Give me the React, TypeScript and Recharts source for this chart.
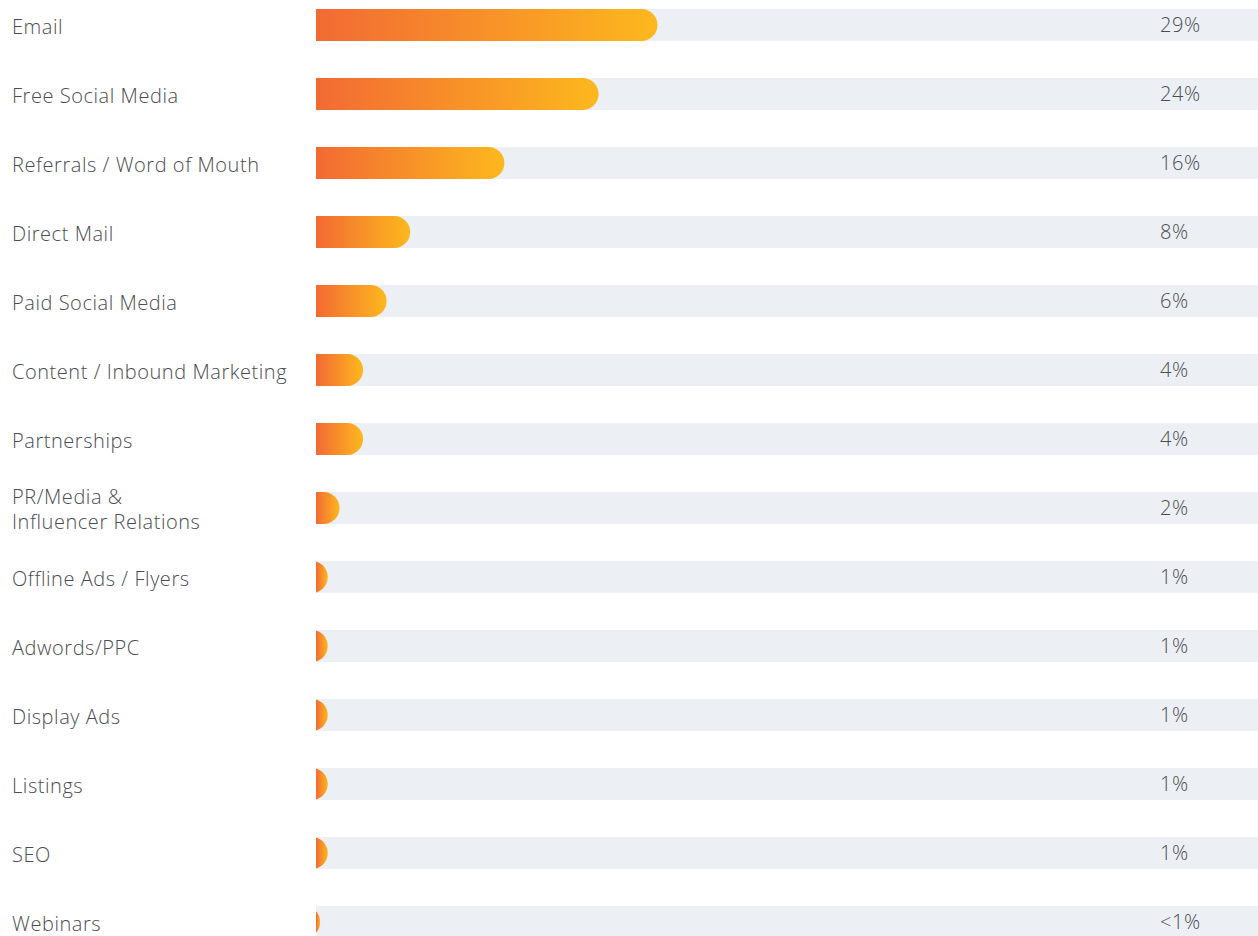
import React from 'react';
import { BarChart, Bar, XAxis, YAxis } from 'recharts';

// Marketing channels, top to bottom
const channels = [
  'Email',
  'Free Social Media',
  'Referrals / Word of Mouth',
  'Direct Mail',
  'Paid Social Media',
  'Content / Inbound Marketing',
  'Partnerships',
  'PR/Media &\nInfluencer Relations',
  'Offline Ads / Flyers',
  'Adwords/PPC',
  'Display Ads',
  'Listings',
  'SEO',
  'Webinars',
];

// share of respondents, in percent
const shares = [29, 24, 16, 8, 6, 4, 4, 2, 1, 1, 1, 1, 1, 0.35];

const shareLabels = ['29%', '24%', '16%', '8%', '6%', '4%', '4%', '2%', '1%', '1%', '1%', '1%', '1%', '<1%'];

const rows = channels.map((channel, i) => ({ channel, share: shares[i], label: shareLabels[i] }));

const FONT = '"Open Sans", Roboto, sans-serif';
const TEXT = '#4b4d52';

// pill bar with a round right end; tiny bars become a slice of that round end
const RoundEndBar = (props: any) => {
  const { x, y, width, height, fill } = props;
  if (!width || width <= 0) return null;
  const r = height / 2;
  const cy = y + r;
  let d: string;
  if (width >= r) {
    d = `M${x},${y} H${x + width - r} A${r},${r} 0 0 1 ${x + width - r},${y + height} H${x} Z`;
  } else {
    const hh = Math.sqrt(r * r - (r - width) * (r - width));
    d = `M${x},${cy - hh} A${r},${r} 0 0 1 ${x},${cy + hh} Z`;
  }
  return <path d={d} fill={fill} />;
};

const ChannelTick = ({ y, payload }: any) => {
  const lines = String(payload.value).split('\n');
  const lineHeight = 25;
  const startDy = -((lines.length - 1) * lineHeight) / 2 + 1;
  return (
    <text
      x={12}
      y={y}
      fill={TEXT}
      fontSize={20}
      fontWeight={300}
      letterSpacing={0.55}
      fontFamily={FONT}
      dominantBaseline="central"
    >
      {lines.map((line, i) => (
        <tspan key={i} x={12} dy={i === 0 ? startDy : lineHeight}>
          {line}
        </tspan>
      ))}
    </text>
  );
};

// percentage readout near the right end of each track
const ShareTick = ({ x, y, index }: any) => (
  <text
    x={x - 90}
    y={y}
    fill={TEXT}
    fontSize={20}
    fontWeight={300}
    letterSpacing={0.55}
    fontFamily={FONT}
    dominantBaseline="central"
    textAnchor="start"
  >
    {shareLabels[index]}
  </text>
);

export default function App() {
  return (
    <div style={{ position: 'absolute', left: 0, top: 0, background: '#fff' }}>
      <BarChart
        layout="vertical"
        width={1258}
        height={936}
        data={rows}
        margin={{ top: -10, right: 0, bottom: -20, left: 0 }}
        barSize={32}
      >
        <defs>
          <linearGradient id="barFill" x1="0" y1="0" x2="1" y2="0">
            <stop offset="0%" stopColor="#f26a33" />
            <stop offset="100%" stopColor="#fdb81e" />
          </linearGradient>
        </defs>
        <XAxis type="number" domain={[0, 80]} hide />
        <YAxis
          type="category"
          dataKey="channel"
          width={316}
          axisLine={false}
          tickLine={false}
          interval={0}
          tick={<ChannelTick />}
        />
        <YAxis
          yAxisId="pct"
          orientation="right"
          mirror
          type="category"
          dataKey="channel"
          axisLine={false}
          tickLine={false}
          interval={0}
          tick={<ShareTick />}
        />
        <Bar
          dataKey="share"
          fill="url(#barFill)"
          background={{ fill: '#eceff4' }}
          shape={<RoundEndBar />}
          isAnimationActive={false}
        />
      </BarChart>
    </div>
  );
}
